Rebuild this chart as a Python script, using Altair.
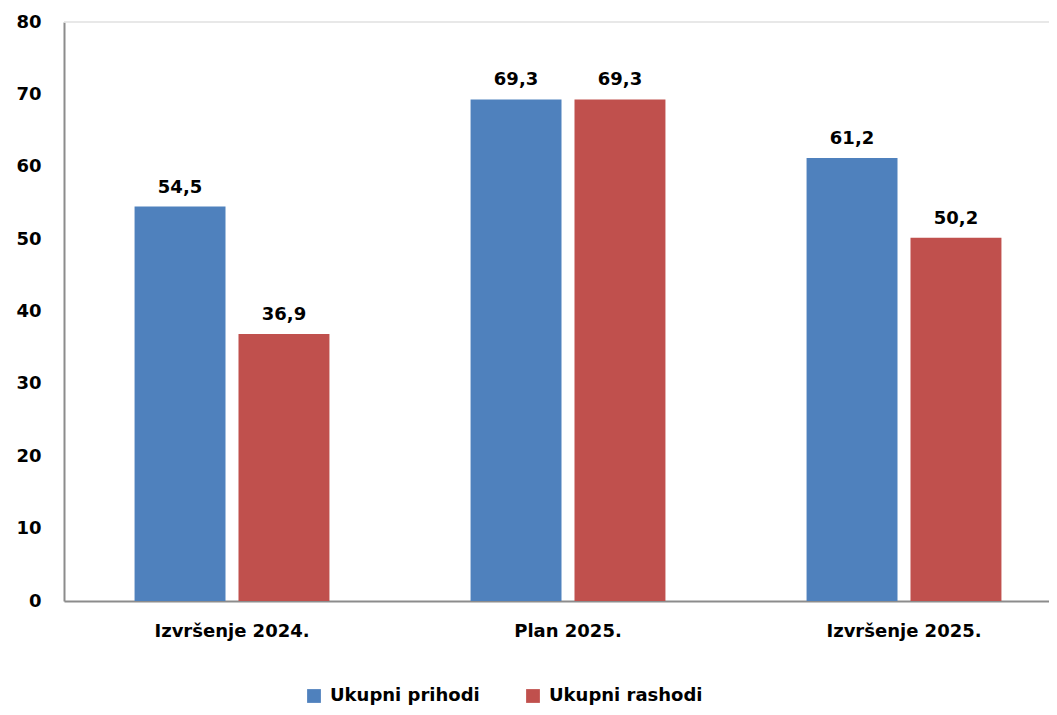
import altair as alt
import pandas as pd

categories = ["Izvršenje 2024.", "Plan 2025.", "Izvršenje 2025."]
series = ["Ukupni prihodi", "Ukupni rashodi"]
prihodi = [54.5, 69.3, 61.2]
rashodi = [36.9, 69.3, 50.2]
colors = ["#4F81BD", "#C0504D"]

rows = []
for c, p, r in zip(categories, prihodi, rashodi):
    rows.append({"cat": c, "series": series[0], "value": p})
    rows.append({"cat": c, "series": series[1], "value": r})
df = pd.DataFrame(rows)

FONT = "DejaVu Sans"
FS = 18

x = alt.X("cat:N", sort=categories,
          scale=alt.Scale(range=[0, 1008], paddingInner=0.42, paddingOuter=0.21),
          axis=alt.Axis(title=None, labelAngle=0, labelFont=FONT, labelFontSize=FS,
                        labelFontWeight="bold", labelColor="#000000", labelPadding=21,
                        ticks=False, domainColor="#8c8c8c", domainWidth=2))
xo = alt.XOffset("series:N", sort=series,
                 scale=alt.Scale(paddingInner=0.125, paddingOuter=0))
y = alt.Y("value:Q", scale=alt.Scale(domain=[0, 80], nice=False),
          axis=alt.Axis(title=None, values=list(range(0, 81, 10)), grid=False, ticks=False,
                        labelFont=FONT, labelFontSize=FS, labelFontWeight="bold",
                        labelColor="#000000", labelPadding=23,
                        domainColor="#8c8c8c", domainWidth=2))

color = alt.Color("series:N", sort=series,
                  scale=alt.Scale(domain=series, range=colors),
                  legend=alt.Legend(title=None, orient="none", direction="horizontal",
                                    legendX=241, legendY=665,
                                    symbolType="square", symbolSize=190,
                                    symbolStrokeWidth=0, labelFont=FONT,
                                    labelFontSize=FS, labelFontWeight="bold",
                                    labelColor="#000000", labelOffset=7,
                                    columnPadding=44))

base = alt.Chart(df).encode(x=x, xOffset=xo)

bars = base.mark_bar().encode(y=y, color=color)

labels = base.transform_calculate(
    label="replace(format(datum.value, '.1f'), '.', ',')"
).mark_text(font=FONT, fontSize=FS, fontWeight="bold", color="#000000",
            baseline="alphabetic", dy=-14).encode(
    y=alt.Y("value:Q"), text="label:N")

top_line = alt.Chart(pd.DataFrame({"v": [80]})).mark_rule(
    color="#e0e0e0", strokeWidth=1.5).encode(
    y=alt.Y("v:Q"), x=alt.value(0), x2=alt.value(1008))

chart = (top_line + bars + labels).properties(
    width=985, height=579,
    autosize=alt.AutoSizeParams(type="none"),
    padding={"left": 56, "top": 14, "right": 0, "bottom": 106},
).configure_view(stroke=None)

chart.save("out.html", embed_options={"renderer": "svg", "actions": False})
